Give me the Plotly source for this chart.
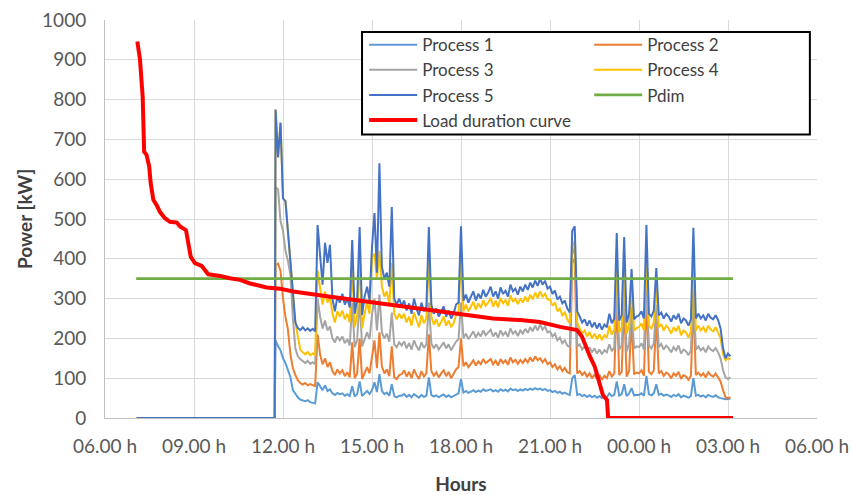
import plotly.graph_objects as go

# ---------------- data ----------------
tick_hours = [6, 9, 12, 15, 18, 21, 24, 27, 30]
tick_labels = ["06.00 h", "09.00 h", "12.00 h", "15.00 h", "18.00 h",
               "21.00 h", "00.00 h", "03.00 h", "06.00 h"]

idle_hours = [7.07, 11.72]          # processes idle (0 kW) in this span
sample_start = 11.75                 # first 5-minute sample (11:45)
sample_step_h = 5 / 60

p1 = [0, 0,
      195, 180, 170, 150, 138, 120, 103, 70, 60, 52, 46, 44, 42, 45, 40,
      38, 37, 90, 78, 70, 82, 68, 72, 62, 58, 63, 60,
      62, 56, 60, 55, 80, 54, 60, 92, 55, 62, 68, 60,
      70, 90, 65, 110, 68, 60, 64, 56, 85, 55, 52, 56,
      56, 60, 53, 58, 52, 60, 55, 51, 58, 53, 56, 102,
      58, 54, 57, 52, 56, 59, 53, 57, 52, 55, 60, 62,
      98, 64, 68, 63, 66, 70, 65, 69, 66, 72, 68, 70,
      72, 67, 70, 66, 72, 68, 71, 67, 74, 70, 72, 68,
      72, 69, 73, 70, 74, 71, 75, 72, 74, 70, 73, 68,
      70, 65, 68, 63, 66, 61, 64, 60, 58, 100, 108, 58,
      60, 55, 58, 53, 57, 52, 56, 51, 55, 50, 54, 52,
      62, 55, 58, 92, 56, 60, 85, 55, 62, 75, 57, 58,
      58, 62, 56, 106, 60, 57, 62, 85, 58, 61, 56, 59,
      57, 53, 58, 55, 60, 52, 56, 54, 51, 55, 100, 56,
      58, 54, 57, 52, 58, 55, 53, 57, 52, 50, 48, 47,
      48, 49]

p2 = [0, 0,
      385, 388, 370, 300, 254, 222, 160, 125, 108, 95, 88, 84, 88, 82, 85,
      82, 80, 210, 160, 135, 150, 128, 140, 118, 108, 122, 112,
      120, 105, 115, 102, 190, 100, 112, 200, 98, 115, 128, 112,
      150, 195, 125, 215, 130, 112, 122, 105, 180, 102, 98, 108,
      110, 120, 104, 116, 100, 122, 108, 98, 118, 104, 112, 210,
      118, 106, 115, 102, 112, 120, 105, 116, 100, 110, 122, 128,
      200, 130, 140, 128, 136, 145, 132, 142, 135, 148, 138, 144,
      148, 135, 144, 132, 148, 138, 145, 134, 152, 140, 146, 136,
      146, 138, 148, 140, 152, 142, 155, 145, 150, 140, 148, 135,
      140, 128, 135, 122, 130, 118, 126, 115, 112, 390, 400, 112,
      118, 108, 115, 104, 112, 100, 110, 98, 108, 96, 106, 100,
      118, 104, 112, 300, 108, 116, 290, 104, 118, 250, 110, 114,
      112, 120, 106, 300, 116, 110, 120, 255, 112, 118, 106, 114,
      110, 100, 112, 106, 116, 98, 108, 104, 96, 106, 290, 108,
      114, 106, 112, 102, 115, 108, 104, 112, 102, 92, 70, 52,
      50, 52]

p3 = [0, 0,
      580, 575, 495, 470, 420, 395, 360, 250, 175, 155, 148, 142, 138, 144, 136,
      140, 135, 300, 255, 225, 245, 220, 230, 200, 190, 205, 195,
      205, 188, 198, 182, 290, 178, 195, 300, 180, 200, 215, 198,
      260, 300, 220, 310, 215, 200, 212, 192, 265, 185, 178, 190,
      182, 192, 175, 188, 172, 195, 180, 170, 190, 176, 185, 290,
      188, 175, 185, 172, 180, 190, 175, 185, 170, 180, 192, 198,
      290, 200, 212, 198, 208, 218, 202, 214, 205, 220, 208, 215,
      222, 205, 215, 202, 220, 208, 216, 204, 225, 212, 218, 206,
      220, 212, 224, 214, 228, 218, 232, 220, 235, 222, 230, 215,
      218, 205, 212, 195, 202, 188, 195, 182, 178, 410, 430, 180,
      185, 172, 180, 168, 178, 165, 175, 162, 172, 160, 170, 165,
      185, 168, 178, 330, 172, 182, 320, 168, 185, 280, 175, 180,
      178, 188, 172, 340, 182, 175, 188, 285, 178, 186, 172, 182,
      175, 165, 178, 170, 182, 162, 172, 168, 158, 170, 330, 172,
      180, 170, 176, 165, 180, 172, 168, 176, 165, 150, 120, 102,
      98, 102]

p4 = [0, 0,
      775, 655, 742, 552, 545, 470, 380, 300, 240, 205, 172, 165, 160, 166, 158,
      162, 158, 370, 330, 285, 318, 290, 305, 262, 240, 268, 255,
      270, 248, 262, 240, 380, 228, 258, 400, 225, 262, 290, 262,
      405, 412, 350, 420, 330, 305, 318, 285, 390, 262, 248, 262,
      250, 262, 240, 255, 232, 265, 245, 228, 258, 238, 250, 400,
      255, 235, 248, 230, 242, 255, 232, 245, 228, 238, 258, 265,
      400, 268, 285, 268, 280, 292, 272, 288, 276, 296, 282, 290,
      302, 280, 295, 278, 302, 288, 296, 282, 308, 292, 300, 286,
      300, 290, 305, 292, 310, 298, 315, 302, 318, 305, 312, 298,
      298, 282, 290, 268, 275, 258, 265, 248, 238, 430, 445, 240,
      225, 212, 220, 205, 216, 200, 212, 198, 210, 196, 208, 202,
      232, 210, 222, 400, 215, 228, 390, 212, 232, 330, 220, 226,
      228, 238, 220, 410, 232, 225, 240, 335, 228, 236, 220, 232,
      225, 212, 228, 218, 232, 208, 220, 215, 202, 218, 405, 220,
      232, 220, 228, 215, 232, 222, 218, 228, 215, 200, 160, 145,
      150, 148]

p5 = [0, 0,
      775, 655, 742, 552, 545, 470, 380, 300, 240, 226, 221, 228, 220, 225, 219,
      224, 218, 485, 415, 335, 440, 390, 435, 300, 268, 305, 290,
      312, 285, 300, 278, 447, 262, 298, 480, 259, 305, 330, 296,
      430, 515, 365, 640, 380, 350, 365, 330, 530, 300, 285, 300,
      282, 295, 270, 288, 262, 300, 275, 258, 290, 268, 280, 480,
      285, 262, 275, 255, 268, 280, 255, 270, 250, 262, 285, 290,
      482, 295, 310, 290, 305, 318, 295, 312, 300, 322, 305, 315,
      330, 305, 318, 300, 328, 312, 320, 305, 335, 318, 325, 310,
      330, 318, 335, 322, 340, 328, 345, 332, 350, 335, 345, 325,
      330, 312, 320, 298, 305, 288, 295, 275, 265, 470, 482, 268,
      255, 240, 248, 232, 245, 228, 240, 225, 238, 222, 235, 228,
      262, 238, 250, 465, 245, 258, 455, 240, 262, 374, 248, 255,
      258, 268, 250, 485, 262, 255, 270, 377, 258, 265, 250, 262,
      255, 242, 258, 248, 262, 238, 250, 245, 232, 248, 478, 250,
      262, 250, 258, 245, 262, 252, 248, 258, 246, 225, 175, 150,
      162, 155]

pdim_hours = [7.05, 27.17]
pdim_kw = [350, 350]

ldc_hours = [7.09, 7.18, 7.27, 7.32, 7.40, 7.49, 7.54, 7.63, 7.74, 7.85,
             8.02, 8.19, 8.42, 8.53, 8.73, 8.81, 8.89, 9.03, 9.26, 9.48,
             9.88, 10.21, 10.55, 10.89, 11.45, 11.90, 12.34, 13.48, 14.59,
             15.71, 16.85, 17.96, 19.08, 19.99, 20.66, 21.34, 21.91, 22.08,
             22.25, 22.35, 22.51, 22.65, 22.78, 22.92, 22.96, 27.17]
ldc_kw = [946, 900, 807, 669, 661, 632, 590, 548, 535, 518,
          502, 493, 491, 481, 472, 439, 405, 389, 382, 361,
          357, 351, 347, 338, 328, 325, 318, 306, 295,
          284, 271, 260, 250, 246, 241, 229, 221, 204,
          171, 154, 129, 95, 58, 45, 0, 0]

# ---------------- figure ----------------
n_samples = len(p5) - len(idle_hours)
proc_hours = idle_hours + [sample_start + i * sample_step_h for i in range(n_samples)]

# (name, values, colour, legend column)
series = [("Process 1", p1, "#5B9BD5", "legend"),
          ("Process 2", p2, "#ED7D31", "legend2"),
          ("Process 3", p3, "#A5A5A5", "legend"),
          ("Process 4", p4, "#FFC000", "legend2"),
          ("Process 5", p5, "#4472C4", "legend")]

fig = go.Figure()
for name, vals, col, leg in series:
    fig.add_trace(go.Scatter(x=proc_hours[:len(vals)], y=vals, name=name, mode="lines",
                             line=dict(color=col, width=2), legend=leg))
fig.add_trace(go.Scatter(x=pdim_hours, y=pdim_kw, name="Pdim", mode="lines",
                         line=dict(color="#70AD47", width=2.8), legend="legend2"))
fig.add_trace(go.Scatter(x=ldc_hours, y=ldc_kw, name="Load duration curve", mode="lines",
                         line=dict(color="#FF0000", width=4), legend="legend"))

font_family = "Lato, 'Open Sans', sans-serif"
leg_font = dict(family=font_family, size=17, color="#404040")
leg_common = dict(xanchor="left", yanchor="top", orientation="v",
                  bgcolor="rgba(0,0,0,0)", borderwidth=0, font=leg_font,
                  itemwidth=48, traceorder="normal", tracegroupgap=0)

fig.update_layout(
    width=852, height=495,
    margin=dict(l=105, r=35, t=20, b=77, autoexpand=False),
    paper_bgcolor="white", plot_bgcolor="white",
    font=dict(family=font_family, size=19, color="#595959"),
    showlegend=True,
    legend=dict(x=0.364, y=0.982, **leg_common),
    legend2=dict(x=0.680, y=0.982, **leg_common),
    shapes=[dict(type="rect", xref="paper", yref="paper",
                 x0=0.361, x1=0.990, y0=0.712, y1=0.970,
                 line=dict(color="black", width=2), fillcolor="white",
                 layer="above")],
    xaxis=dict(range=[6, 30], tickmode="array", tickvals=tick_hours,
               ticktext=tick_labels, showgrid=True, gridcolor="#D9D9D9",
               gridwidth=1, showline=True, linecolor="#BFBFBF", linewidth=1,
               zeroline=False, ticks="outside", ticklen=11,
               tickcolor="rgba(0,0,0,0)",
               title=dict(text="<b>Hours</b>", standoff=34,
                          font=dict(size=19, color="#404040"))),
    yaxis=dict(range=[0, 1000], dtick=100, showgrid=True, gridcolor="#D9D9D9",
               gridwidth=1, showline=True, linecolor="#BFBFBF", linewidth=1,
               zeroline=False, ticks="outside", ticklen=14,
               tickcolor="rgba(0,0,0,0)",
               title=dict(text="<b>Power [kW]</b>", standoff=4,
                          font=dict(size=19, color="#404040"))),
)

fig.write_html("out.html")
